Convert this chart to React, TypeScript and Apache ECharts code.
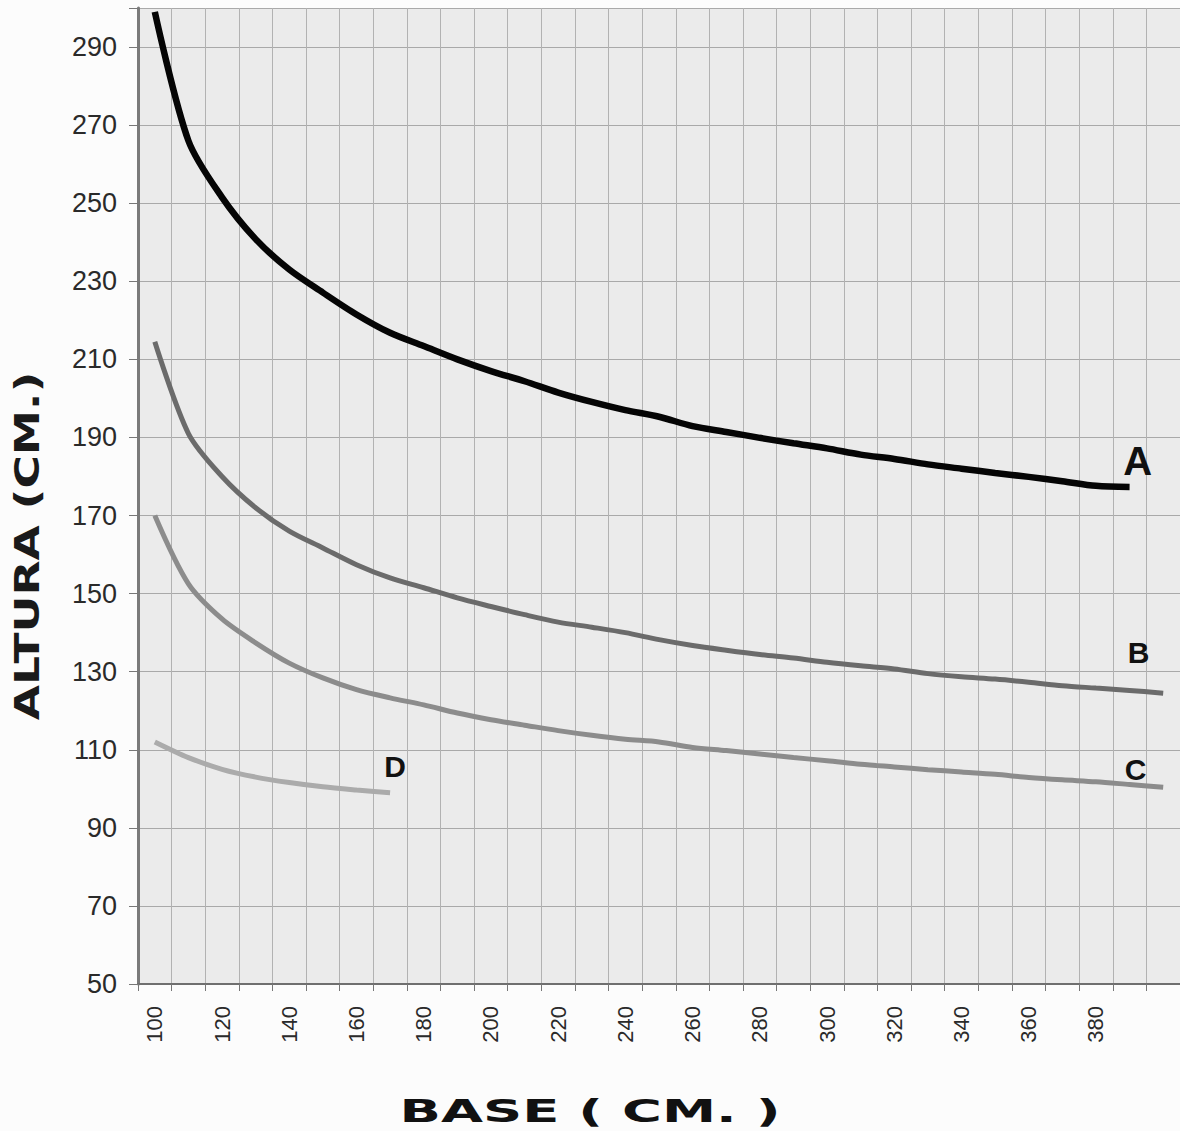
import React, { useEffect, useRef } from "react";
import * as echarts from "echarts";

// Base (cm) categories
const categories = [
  "100", "110", "120", "130", "140", "150", "160", "170", "180", "190",
  "200", "210", "220", "230", "240", "250", "260", "270", "280", "290",
  "300", "310", "320", "330", "340", "350", "360", "370", "380", "390", "400",
];

// Altura (cm) curves
const curveA = [
  299, 266, 251.5, 240.8, 233, 227.1, 221.5, 216.8, 213.4, 210,
  207, 204.4, 201.5, 199.1, 197, 195.3, 192.9, 191.4, 189.9, 188.5,
  187.2, 185.6, 184.5, 183.1, 182, 180.9, 179.9, 178.8, 177.6, 177.3,
];
const curveB = [
  214.5, 191, 180, 172, 166, 161.7, 157.4, 154, 151.5, 148.9,
  146.7, 144.6, 142.7, 141.4, 140, 138.2, 136.7, 135.5, 134.4, 133.5,
  132.4, 131.5, 130.7, 129.5, 128.7, 128.1, 127.3, 126.4, 125.8, 125.2, 124.5,
];
const curveC = [
  170, 152.5, 143.5, 137.4, 132.2, 128.4, 125.4, 123.3, 121.5, 119.4,
  117.7, 116.3, 114.9, 113.7, 112.7, 112, 110.6, 109.8, 108.9, 108,
  107.2, 106.3, 105.6, 104.9, 104.3, 103.7, 102.9, 102.3, 101.8, 101.1, 100.4,
];
const curveD = [112, 108, 105, 103, 101.6, 100.5, 99.7, 99];

// Axis settings
const yMin = 50;
const yMax = 300;
const yStep = 20;
const hiddenXLabels = ["400"];

// Curve label anchors (category, value)
const labelA: [string, number] = ["390", 184];
const labelB: [string, number] = ["390", 135];
const labelC: [string, number] = ["390", 105];
const labelD: [string, number] = ["170", 105.6];

const labelFont = { fontFamily: "Liberation Sans", fontWeight: "bold" as const, color: "#111" };

function curveSeries(name: string, data: number[], color: string, width: number, anchor: [string, number], fontSize: number, offset: number[]) {
  return {
    type: "line",
    name,
    data,
    symbol: "none",
    showSymbol: false,
    smooth: 0.3,
    silent: true,
    lineStyle: { color, width, cap: "butt" },
    markPoint: {
      symbol: "circle",
      symbolSize: 1,
      silent: true,
      itemStyle: { color: "transparent" },
      label: {
        show: true,
        position: "inside",
        formatter: name,
        fontSize,
        offset,
        ...labelFont,
      },
      data: [{ coord: anchor }],
    },
  };
}

export default function App() {
  const ref = useRef<HTMLDivElement>(null);
  useEffect(() => {
    document.body.style.margin = "0";
    if (!ref.current) return;
    const chart = echarts.init(ref.current, undefined, { renderer: "svg" });
    chart.setOption({
      animation: false,
      backgroundColor: "#fcfcfc",
      grid: {
        left: 138,
        top: 8,
        right: -7,
        bottom: 147,
        show: true,
        backgroundColor: "#ebebeb",
        borderWidth: 0,
      },
      xAxis: {
        type: "category",
        data: categories,
        boundaryGap: true,
        axisLine: { show: true, lineStyle: { color: "#6f6f6f", width: 2 } },
        axisTick: { show: true, interval: 0, length: 7, lineStyle: { color: "#777", width: 1 } },
        axisLabel: {
          interval: (i: number, v: string) => i % 2 === 0 && !hiddenXLabels.includes(v),
          rotate: 90,
          margin: 22,
          fontSize: 22,
          fontFamily: "Liberation Sans",
          color: "#2a2a2a",
        },
        splitLine: { show: true, interval: 0, lineStyle: { color: "#b2b2b2", width: 1 } },
      },
      yAxis: {
        type: "value",
        min: yMin,
        max: yMax,
        interval: yStep,
        axisLine: { show: true, lineStyle: { color: "#7a7a7a", width: 3 } },
        axisTick: { show: true, length: 9, lineStyle: { color: "#777", width: 1 } },
        axisLabel: {
          formatter: (v: number) => (v === yMax ? "" : String(v)),
          margin: 21,
          fontSize: 27,
          fontFamily: "Liberation Sans",
          color: "#2a2a2a",
        },
        splitLine: { show: true, lineStyle: { color: "#a9a9a9", width: 1 } },
      },
      series: [
        curveSeries("A", curveA, "#050505", 6.5, labelA, 40, [8, 0]),
        curveSeries("B", curveB, "#6b6b6b", 5, labelB, 30, [9, 0]),
        curveSeries("C", curveC, "#8c8c8c", 5, labelC, 30, [6, 0]),
        curveSeries("D", curveD, "#ababab", 5, labelD, 30, [5, 0]),
      ],
      graphic: [
        {
          type: "text",
          x: 27,
          y: 546,
          rotation: Math.PI / 2,
          scaleX: 1.38,
          silent: true,
          style: {
            text: "ALTURA (CM.)",
            fontSize: 33,
            fontWeight: "bold",
            fontFamily: "DejaVu Sans",
            fill: "#1a1a1a",
            align: "center",
            verticalAlign: "middle",
            textAlign: "center",
            textVerticalAlign: "middle",
          },
        },
        {
          type: "text",
          x: 590,
          y: 1111,
          scaleX: 1.7,
          silent: true,
          style: {
            text: "BASE ( CM. )",
            fontSize: 32,
            fontWeight: "bold",
            fontFamily: "DejaVu Sans",
            fill: "#111",
            align: "center",
            verticalAlign: "middle",
            textAlign: "center",
            textVerticalAlign: "middle",
          },
        },
      ],
    });
    return () => chart.dispose();
  }, []);
  return <div ref={ref} style={{ width: 1180, height: 1131 }} />;
}
